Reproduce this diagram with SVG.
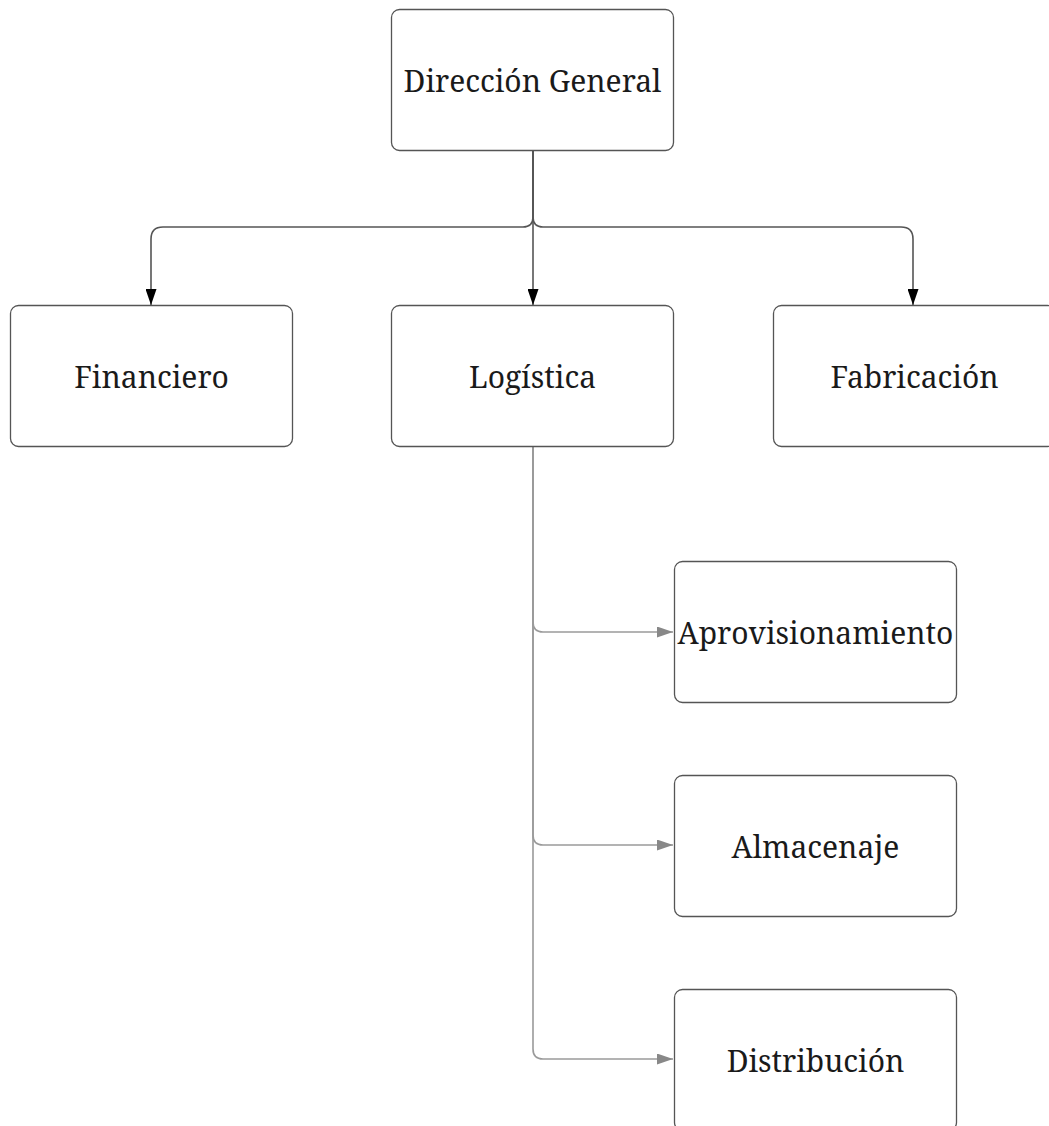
<svg xmlns="http://www.w3.org/2000/svg" width="1049" height="1126" viewBox="0 0 1049 1126">
  <defs>
    <style>
      .box { fill: #ffffff; stroke: #555555; stroke-width: 1.3; }
      .label { font-family: "Noto Serif", "DejaVu Serif", "Liberation Serif", serif; font-size: 30px; fill: #1a1a1a; text-anchor: middle; dominant-baseline: central; }
      .main { fill: none; stroke: #555555; stroke-width: 1.6; }
      .sub { fill: none; stroke: #9a9a9a; stroke-width: 1.6; }
    </style>
    <marker id="arrowDark" markerWidth="16" markerHeight="11" refX="16" refY="5.5" orient="auto" markerUnits="userSpaceOnUse" viewBox="0 0 16 11">
      <path d="M0,0 L16,5.5 L0,11 Z" fill="#000000"/>
    </marker>
    <marker id="arrowGray" markerWidth="16" markerHeight="11" refX="16" refY="5.5" orient="auto" markerUnits="userSpaceOnUse" viewBox="0 0 16 11">
      <path d="M0,0 L16,5.5 L0,11 Z" fill="#888888"/>
    </marker>
  </defs>
  <rect width="1049" height="1126" fill="#ffffff"/>

  <g id="connectors">
    <path class="main" d="M533,150 V305" marker-end="url(#arrowDark)"/>
    <path class="main" d="M533,150 V217 Q533,227 523,227 H163 Q151,227 151,239 V305" marker-end="url(#arrowDark)"/>
    <path class="main" d="M533,150 V217 Q533,227 543,227 H901 Q913,227 913,239 V305" marker-end="url(#arrowDark)"/>
    <path class="sub" d="M533,446 V622 Q533,632 543,632 H673" marker-end="url(#arrowGray)"/>
    <path class="sub" d="M533,446 V835 Q533,845 543,845 H673" marker-end="url(#arrowGray)"/>
    <path class="sub" d="M533,446 V1049 Q533,1059 543,1059 H673" marker-end="url(#arrowGray)"/>
  </g>

  <g id="direccion-general">
    <rect class="box" x="391.5" y="9.5" width="282" height="141" rx="8"/>
    <text class="label" x="532.5" y="80">Dirección General</text>
  </g>
  <g id="financiero">
    <rect class="box" x="10.5" y="305.5" width="282" height="141" rx="8"/>
    <text class="label" x="151.5" y="376">Financiero</text>
  </g>
  <g id="logistica">
    <rect class="box" x="391.5" y="305.5" width="282" height="141" rx="8"/>
    <text class="label" x="532.5" y="376">Logística</text>
  </g>
  <g id="fabricacion">
    <rect class="box" x="773.5" y="305.5" width="282" height="141" rx="8"/>
    <text class="label" x="914.5" y="376">Fabricación</text>
  </g>
  <g id="aprovisionamiento">
    <rect class="box" x="674.5" y="561.5" width="282" height="141" rx="8"/>
    <text class="label" x="815.5" y="632">Aprovisionamiento</text>
  </g>
  <g id="almacenaje">
    <rect class="box" x="674.5" y="775.5" width="282" height="141" rx="8"/>
    <text class="label" x="815.5" y="846">Almacenaje</text>
  </g>
  <g id="distribucion">
    <rect class="box" x="674.5" y="989.5" width="282" height="141" rx="8"/>
    <text class="label" x="815.5" y="1060">Distribución</text>
  </g>
</svg>
